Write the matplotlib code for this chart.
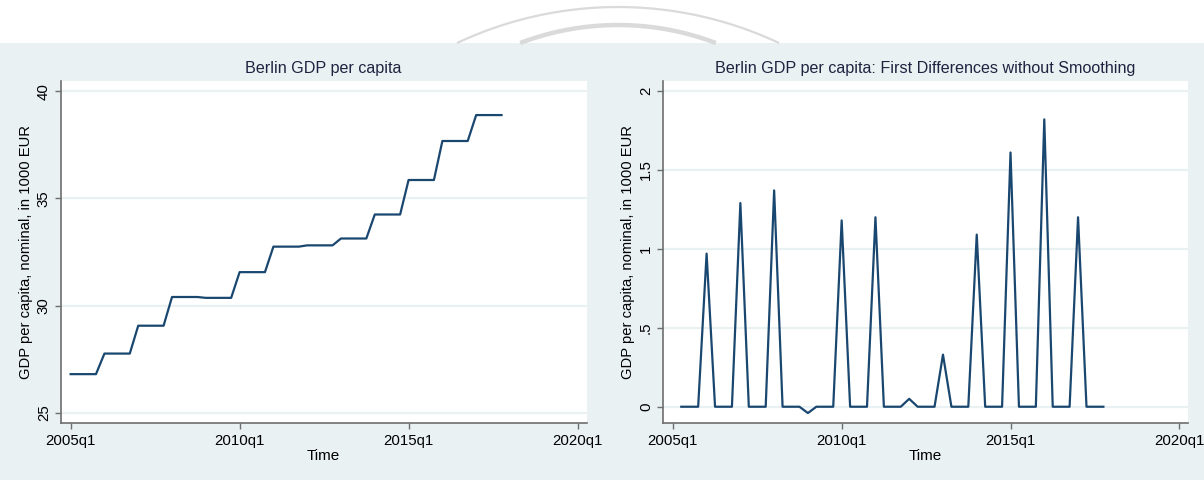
import matplotlib.pyplot as plt
import numpy as np

plt.rcParams['font.family'] = ['Liberation Sans', 'DejaVu Sans']

# x positions are quarters counted from 2005q1 (0 = 2005q1)
quarter_ticks = [0, 20, 40, 60]
quarter_labels = ["2005q1", "2010q1", "2015q1", "2020q1"]

# GDP per capita, nominal, in 1000 EUR (annual value held for each quarter)
gdp_level = [
    26.80, 26.80, 26.80, 26.80,   # 2005
    27.76, 27.76, 27.76, 27.76,   # 2006
    29.06, 29.06, 29.06, 29.06,   # 2007
    30.40, 30.40, 30.40, 30.40,   # 2008
    30.36, 30.36, 30.36, 30.36,   # 2009
    31.56, 31.56, 31.56, 31.56,   # 2010
    32.75, 32.75, 32.75, 32.75,   # 2011
    32.81, 32.81, 32.81, 32.81,   # 2012
    33.13, 33.13, 33.13, 33.13,   # 2013
    34.25, 34.25, 34.25, 34.25,   # 2014
    35.86, 35.86, 35.86, 35.86,   # 2015
    37.68, 37.68, 37.68, 37.68,   # 2016
    38.89, 38.89, 38.89, 38.89,   # 2017
]
level_quarters = np.arange(len(gdp_level))

# first differences, starting at 2005q2
gdp_diff = [
           0.00, 0.00, 0.00,      # 2005
    0.97,  0.00, 0.00, 0.00,      # 2006
    1.29,  0.00, 0.00, 0.00,      # 2007
    1.37,  0.00, 0.00, 0.00,      # 2008
    -0.04, 0.00, 0.00, 0.00,      # 2009
    1.18,  0.00, 0.00, 0.00,      # 2010
    1.20,  0.00, 0.00, 0.00,      # 2011
    0.05,  0.00, 0.00, 0.00,      # 2012
    0.33,  0.00, 0.00, 0.00,      # 2013
    1.09,  0.00, 0.00, 0.00,      # 2014
    1.61,  0.00, 0.00, 0.00,      # 2015
    1.82,  0.00, 0.00, 0.00,      # 2016
    1.20,  0.00, 0.00, 0.00,      # 2017
]
diff_quarters = np.arange(1, len(gdp_diff) + 1)

BG = '#e9f1f2'
NAVY = '#1a476f'
AXIS = '#6e6e6e'
W, H = 1204, 480

fig = plt.figure(figsize=(W / 100, H / 100), dpi=100)

# backdrop: white strip with grey arcs on top, bluish-grey panel below
back = fig.add_axes([0, 0, 1, 1], zorder=0)
back.set_xlim(0, W)
back.set_ylim(H, 0)
back.axis('off')
back.add_patch(plt.Rectangle((0, 43), W, H - 43, facecolor=BG, edgecolor='none'))
for cy, r, lw in [(385, 378, 1.6), (300, 275, 3.2)]:
    tmax = np.arccos((cy - 43) / r)
    t = np.linspace(-tmax, tmax, 200)
    back.plot(618 + r * np.sin(t), cy - r * np.cos(t), color='#dadada', lw=lw,
              solid_capstyle='butt')


def style_axes(ax, title, ylim, yticks, yticklabels):
    ax.set_facecolor('white')
    ax.set_xlim(-1.2, 61.06)
    ax.set_ylim(*ylim)
    ax.set_xticks(quarter_ticks)
    ax.set_xticklabels(quarter_labels)
    ax.set_yticks(yticks)
    ax.set_yticklabels(yticklabels, rotation=90, va='center')
    ax.grid(axis='y', color=BG, lw=1.6)
    ax.set_axisbelow(True)
    for side in ['top', 'right']:
        ax.spines[side].set_visible(False)
    for side in ['left', 'bottom']:
        ax.spines[side].set_color(AXIS)
        ax.spines[side].set_linewidth(1.2)
    ax.tick_params(colors=AXIS, labelcolor='black', labelsize=10.8,
                   length=4, width=1, pad=3)
    ax.tick_params(axis='x', pad=4)
    ax.set_title(title, fontsize=11.6, color='#1e2440', pad=6)
    ax.set_xlabel("Time", fontsize=11, labelpad=1)
    ax.set_ylabel("GDP per capita, nominal, in 1000 EUR", fontsize=10.6, labelpad=3)


ax1 = fig.add_axes([60.5 / W, (H - 423) / H, 526 / W, 342 / H], zorder=1)
ax1.plot(level_quarters, gdp_level, color=NAVY, lw=1.6)
style_axes(ax1, "Berlin GDP per capita", (24.52, 40.48),
           [25, 30, 35, 40], ["25", "30", "35", "40"])

ax2 = fig.add_axes([662.7 / W, (H - 423) / H, 525.6 / W, 342 / H], zorder=1)
ax2.plot(diff_quarters, gdp_diff, color=NAVY, lw=1.6)
style_axes(ax2, "Berlin GDP per capita: First Differences without Smoothing",
           (-0.103, 2.063), [0, 0.5, 1, 1.5, 2], ["0", ".5", "1", "1.5", "2"])

fig.savefig("out.png", dpi=100)
